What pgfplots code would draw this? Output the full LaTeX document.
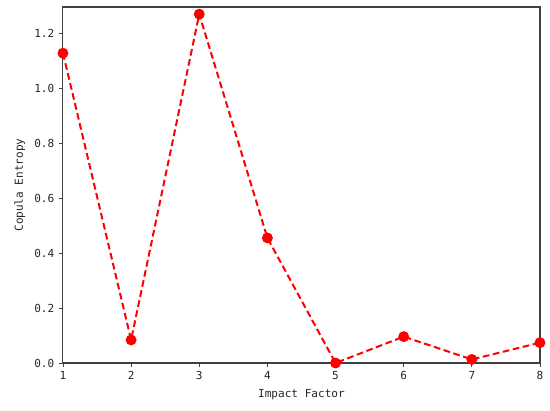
\documentclass[border=0pt]{standalone}
\usepackage{pgfplots}
\pgfplotsset{compat=1.18}
\usepackage{fontspec}
\setmainfont{DejaVu Sans Mono}
\begin{document}
\begin{tikzpicture}
\begin{axis}[
  scale only axis,
  width=357.75pt, height=267pt,
  xmin=1, xmax=8, ymin=0, ymax=1.295,
  xtick={1,2,...,8},
  ytick={0,0.2,...,1.2},
  yticklabel style={/pgf/number format/.cd, fixed, fixed zerofill, precision=1},
  /pgf/number format/assume math mode=true,
  tick align=outside, tick pos=left,
  major tick length=3pt,
  axis line style={black!75, line width=0.8pt},
  every tick/.style={black!75, line width=0.6pt},
  tick label style={font=\fontsize{8.3}{9}\selectfont, text=black!85},
  label style={font=\fontsize{8.3}{9}\selectfont, text=black!85},
  xlabel={Impact Factor},
  ylabel={Copula Entropy},
  clip=false,
]
\addplot[red, line width=1.5pt, dash pattern=on 5pt off 2.7pt,
  mark=*, mark size=3.3pt, mark options={solid, fill=red, draw=none}]
  coordinates {(1,1.127) (2,0.084) (3,1.269) (4,0.455) (5,0.0) (6,0.096) (7,0.013) (8,0.074)};
\path (rel axis cs:-0.132,-0.132) rectangle (rel axis cs:1.021,1.0197);
\end{axis}
\end{tikzpicture}
\end{document}
